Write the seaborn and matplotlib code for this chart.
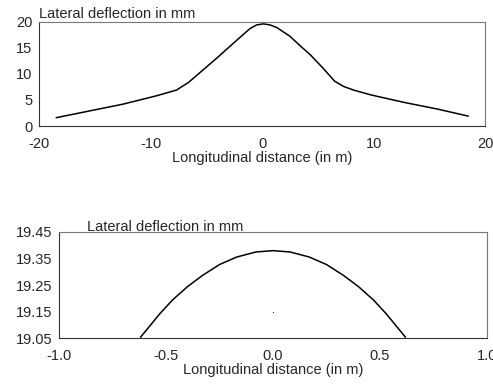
import matplotlib
matplotlib.use("Agg")
import matplotlib.pyplot as plt
import seaborn as sns
import pandas as pd

# Top panel: full-length lateral deflection profile
top_x = [-18.5, -15.5, -12.5, -9.5, -7.7, -6.6, -4.1, -2.9, -2.0, -1.1, -0.5, 0.1,
         0.7, 1.3, 2.5, 3.4, 4.3, 5.5, 6.5, 7.3, 8.2, 9.7, 12.7, 15.7, 18.5]
top_y = [1.6, 2.9, 4.2, 5.8, 6.9, 8.4, 13.0, 15.3, 17.0, 18.7, 19.4, 19.6,
         19.4, 18.9, 17.2, 15.4, 13.7, 11.0, 8.6, 7.6, 6.9, 6.0, 4.55, 3.27, 1.9]

# Bottom panel: zoom on the peak
bot_x = [-0.62, -0.58, -0.53, -0.47, -0.4, -0.33, -0.25, -0.17, -0.08, 0.0,
         0.08, 0.17, 0.25, 0.33, 0.4, 0.47, 0.53, 0.58, 0.62]
bot_y = [19.054, 19.093, 19.142, 19.194, 19.244, 19.286, 19.327, 19.355, 19.374, 19.379,
         19.374, 19.355, 19.327, 19.286, 19.244, 19.194, 19.142, 19.093, 19.054]
dot_x = [0.0]
dot_y = [19.148]

top_xticks = [-20, -10, 0, 10, 20]
top_yticks = [0, 5, 10, 15, 20]
bot_xticks = [-1.0, -0.5, 0.0, 0.5, 1.0]
bot_yticks = [19.05, 19.15, 19.25, 19.35, 19.45]

sns.set_style("white")
plt.rcParams['font.family'] = ['Liberation Sans', 'DejaVu Sans']

fig = plt.figure(figsize=(4.93, 3.89), dpi=100)
ax1 = fig.add_axes([0.0801, 0.676, 0.9037, 0.268])
ax2 = fig.add_axes([0.1203, 0.1303, 0.8669, 0.274])

df1 = pd.DataFrame({"x": top_x, "y": top_y})
df2 = pd.DataFrame({"x": bot_x, "y": bot_y})

sns.lineplot(data=df1, x="x", y="y", ax=ax1, color="black", linewidth=1.1, sort=False)
sns.lineplot(data=df2, x="x", y="y", ax=ax2, color="black", linewidth=1.1, sort=False)
ax2.scatter(dot_x, dot_y, s=0.6, color="black", linewidths=0)

ax1.set_xlim(-20, 20)
ax1.set_ylim(0, 20)
ax1.set_xticks(top_xticks)
ax1.set_xticklabels([str(t) for t in top_xticks])
ax1.set_yticks(top_yticks)

ax2.set_xlim(-1.0, 1.0)
ax2.set_ylim(19.05, 19.45)
ax2.set_xticks(bot_xticks)
ax2.set_xticklabels([f"{t:.1f}" for t in bot_xticks])
ax2.set_yticks(bot_yticks)
ax2.set_yticklabels([f"{t:.2f}" for t in bot_yticks])

for ax in (ax1, ax2):
    ax.set_xlabel("Longitudinal distance (in m)", fontsize=10.5, labelpad=0)
    ax.set_ylabel("")
    ax.tick_params(axis="both", length=0, labelsize=10.5, pad=5)
    ax.tick_params(axis="x", pad=8)
    for side in ["top", "right"]:
        ax.spines[side].set_color("#777777")
        ax.spines[side].set_linewidth(0.8)
        ax.spines[side].set_linestyle((0, (6, 1)))
    for side in ["left", "bottom"]:
        ax.spines[side].set_color("#333333")
        ax.spines[side].set_linewidth(0.8)
        ax.spines[side].set_linestyle((0, (8, 1)))
    ax.grid(False)

ax1.text(0.0, 1.01, "Lateral deflection in mm", transform=ax1.transAxes,
         fontsize=10.5, ha="left", va="bottom")
ax2.text(0.065, 0.975, "Lateral deflection in mm", transform=ax2.transAxes,
         fontsize=10.5, ha="left", va="bottom")

fig.savefig("out.png", dpi=100)
